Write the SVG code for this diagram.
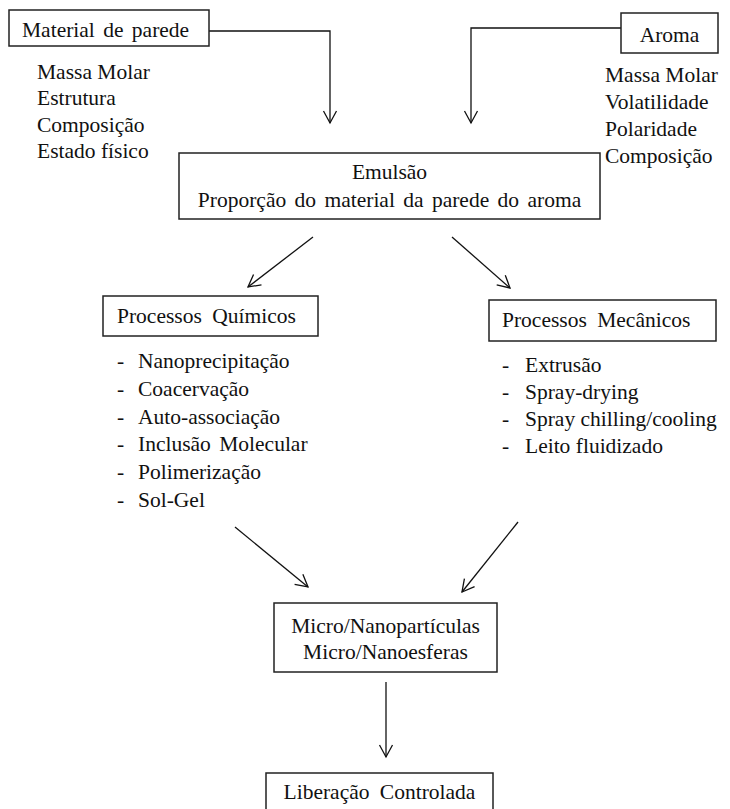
<svg xmlns="http://www.w3.org/2000/svg" width="730" height="809" viewBox="0 0 730 809" font-family="Liberation Serif, Times New Roman, serif" font-size="21.5">
<defs>
<style>
text{fill:#111}
.box{fill:#fff;stroke:#222;stroke-width:1.5}
.c{text-anchor:middle}
.conn{fill:none;stroke:#111;stroke-width:1.3}
</style>
<marker id="ah" markerUnits="userSpaceOnUse" viewBox="-14 -8 16 16" refX="0" refY="0" markerWidth="16" markerHeight="16" orient="auto">
<path d="M-12,-6.5 L0,0 L-12,6.5" fill="none" stroke="#111" stroke-width="1.3"/>
</marker>
</defs>
<rect width="730" height="809" fill="#fff"/>
<g id="connectors">
<path class="conn" d="M209,31 H330 V123" marker-end="url(#ah)"/>
<path class="conn" d="M621,28 H471 V123" marker-end="url(#ah)"/>
<path class="conn" d="M313,237 L248,287" marker-end="url(#ah)"/>
<path class="conn" d="M452,237 L510,288" marker-end="url(#ah)"/>
<path class="conn" d="M235,527 L308,587" marker-end="url(#ah)"/>
<path class="conn" d="M518,522 L462,592" marker-end="url(#ah)"/>
<path class="conn" d="M386,682 V757" marker-end="url(#ah)"/>
</g>
<g id="material">
<rect class="box" x="9" y="10" width="200" height="36"/>
<text x="22" y="37" word-spacing="3">Material de parede</text>
<text x="37" y="79">Massa Molar</text>
<text x="37" y="105">Estrutura</text>
<text x="37" y="132">Composição</text>
<text x="37" y="158">Estado físico</text>
</g>
<g id="aroma">
<rect class="box" x="621" y="13" width="97" height="40"/>
<text class="c" x="669.5" y="42">Aroma</text>
<text x="605" y="82">Massa Molar</text>
<text x="605" y="109">Volatilidade</text>
<text x="605" y="136">Polaridade</text>
<text x="605" y="163">Composição</text>
</g>
<g id="emulsao">
<rect class="box" x="179" y="153" width="421" height="66"/>
<text class="c" x="389.5" y="179">Emulsão</text>
<text class="c" x="389.5" y="207" word-spacing="3">Proporção do material da parede do aroma</text>
</g>
<g id="quimicos">
<rect class="box" x="103" y="296" width="215" height="40"/>
<text x="117" y="323" word-spacing="5">Processos Químicos</text>
<text x="117" y="368">-</text><text x="138" y="368">Nanoprecipitação</text>
<text x="117" y="396">-</text><text x="138" y="396">Coacervação</text>
<text x="117" y="424">-</text><text x="138" y="424">Auto-associação</text>
<text x="117" y="451">-</text><text x="138" y="451" word-spacing="3">Inclusão Molecular</text>
<text x="117" y="479">-</text><text x="138" y="479">Polimerização</text>
<text x="117" y="507">-</text><text x="138" y="507">Sol-Gel</text>
</g>
<g id="mecanicos">
<rect class="box" x="489" y="300" width="227" height="41"/>
<text x="502" y="327" word-spacing="5">Processos Mecânicos</text>
<text x="502" y="372">-</text><text x="525" y="372">Extrusão</text>
<text x="502" y="399">-</text><text x="525" y="399">Spray-drying</text>
<text x="502" y="426">-</text><text x="525" y="426">Spray chilling/cooling</text>
<text x="502" y="453">-</text><text x="525" y="453">Leito fluidizado</text>
</g>
<g id="micro">
<rect class="box" x="274" y="603" width="223" height="69"/>
<text class="c" x="385.5" y="633">Micro/Nanopartículas</text>
<text class="c" x="385.5" y="659">Micro/Nanoesferas</text>
</g>
<g id="liberacao">
<rect class="box" x="266" y="773" width="227" height="50"/>
<text class="c" x="379.5" y="799" word-spacing="5">Liberação Controlada</text>
</g>
</svg>
